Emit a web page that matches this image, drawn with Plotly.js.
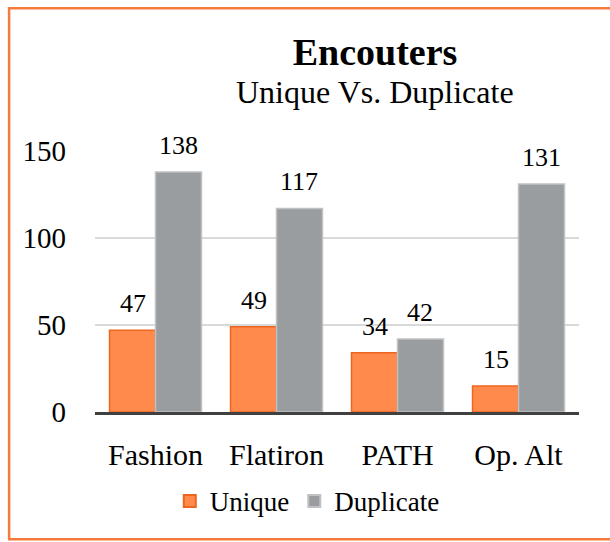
<!DOCTYPE html>
<html>
<head>
<meta charset="utf-8">
<script src="https://cdn.plot.ly/plotly-3.0.1.min.js"></script>
<style>
  html, body { margin: 0; padding: 0; background: #fff; }
  #chart { width: 610px; height: 542px; }
</style>
</head>
<body>
<div id="chart"></div>
<script>
// ---- data ----
var categories = ["Fashion", "Flatiron", "PATH", "Op. Alt"];
var uniqueVals = [47, 49, 34, 15];
var duplicateVals = [138, 117, 42, 131];
var seriesNames = ["Unique", "Duplicate"];
var yTicks = [0, 50, 100, 150];
var chartTitle = "Encouters";
var chartSubtitle = "Unique Vs. Duplicate";

var FONT = '"Liberation Serif", "DejaVu Serif", serif';
var ORANGE = '#FF8A4C', ORANGE_EDGE = '#EE6520';
var GRAY = '#9A9D9F', GRAY_EDGE = '#C0C1C2';

var bargap = 0.24;
var half = (1 - bargap) / 4;

var traces = [
  {
    type: 'bar', name: seriesNames[0], x: categories, y: uniqueVals,
    marker: { color: ORANGE, line: { color: ORANGE_EDGE, width: 1.5 } },
    hoverinfo: 'x+y'
  },
  {
    type: 'bar', name: seriesNames[1], x: categories, y: duplicateVals,
    marker: { color: GRAY, line: { color: GRAY_EDGE, width: 1.5 } },
    hoverinfo: 'x+y'
  }
];

var annotations = [];
categories.forEach(function (c, i) {
  annotations.push({ x: i - half, y: uniqueVals[i], xref: 'x', yref: 'y', text: String(uniqueVals[i]),
    showarrow: false, yanchor: 'bottom', yshift: 10, font: { family: FONT, size: 26, color: '#000' } });
  annotations.push({ x: i + half, y: duplicateVals[i], xref: 'x', yref: 'y', text: String(duplicateVals[i]),
    showarrow: false, yanchor: 'bottom', yshift: 10, font: { family: FONT, size: 26, color: '#000' } });
});
annotations.push({
  xref: 'paper', yref: 'paper', x: (375 - 94.5) / 484.5, y: 1 + (151 - 92) / 261.5,
  xanchor: 'center', yanchor: 'middle', showarrow: false, text: chartSubtitle,
  font: { family: FONT, size: 32, color: '#000' }
});

// border: left, top and bottom edges (right edge lies outside the picture)
var bx0 = (8.5 - 94.5) / 484.5, bx1 = (660 - 94.5) / 484.5;
var by0 = (412.5 - 540) / 261.5, by1 = 1 + (151 - 8) / 261.5;

var layout = {
  width: 610, height: 542,
  margin: { l: 94.5, r: 31, t: 151, b: 129.5, pad: 0 },
  paper_bgcolor: '#fff', plot_bgcolor: '#fff',
  font: { family: FONT, color: '#000' },
  title: {
    text: '<b>' + chartTitle + '</b>',
    xref: 'container', yref: 'container',
    x: 375 / 610, xanchor: 'center',
    y: 1 - 52 / 542, yanchor: 'middle',
    font: { family: FONT, size: 38, color: '#000' }
  },
  barmode: 'group', bargap: bargap, bargroupgap: 0,
  xaxis: {
    type: 'category', showgrid: false, zeroline: false,
    showline: true, linecolor: '#404040', linewidth: 3,
    ticks: '', ticklabelstandoff: 14,
    tickfont: { family: FONT, size: 30, color: '#000' },
    fixedrange: true
  },
  yaxis: {
    range: [0, 150], tickvals: yTicks, ticktext: yTicks.map(String),
    showgrid: true, gridcolor: '#D9D9D9', gridwidth: 1.5,
    zeroline: false, showline: false, ticks: '', ticklabelstandoff: 28,
    tickfont: { family: FONT, size: 29, color: '#000' },
    fixedrange: true
  },
  showlegend: true,
  legend: {
    orientation: 'h', xref: 'paper', yref: 'paper',
    x: (307 - 94.5) / 484.5, xanchor: 'center',
    y: (412.5 - 502) / 261.5, yanchor: 'middle',
    font: { family: FONT, size: 27, color: '#000' },
    itemsizing: 'constant', traceorder: 'normal'
  },
  annotations: annotations,
  shapes: [{
    type: 'path', xref: 'paper', yref: 'paper',
    path: 'M' + bx1 + ',' + by1 + ' L' + bx0 + ',' + by1 + ' L' + bx0 + ',' + by0 + ' L' + bx1 + ',' + by0,
    line: { color: '#F57A3C', width: 2.5 }, layer: 'below'
  }]
};

Plotly.newPlot('chart', traces, layout, { displayModeBar: false, staticPlot: true });
</script>
</body>
</html>
